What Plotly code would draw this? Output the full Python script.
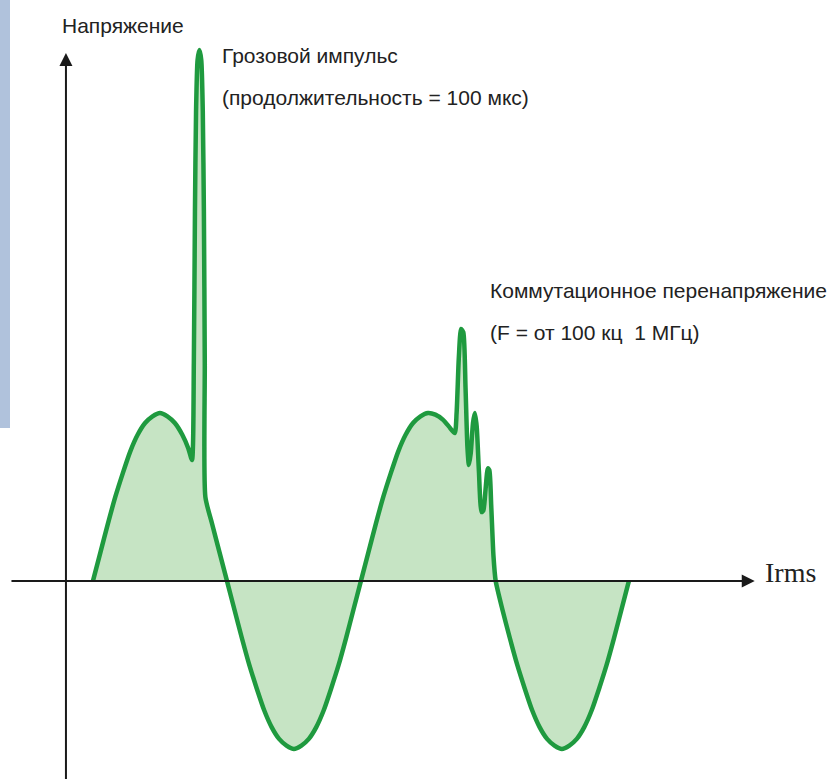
import plotly.graph_objects as go

# Phase (degrees) and voltage (relative to mains amplitude)
phase = [0, 10, 20, 30, 40, 50, 60, 70, 80, 90, 100, 110, 120, 128, 133,
         135.5, 137, 138.5, 140.5, 143, 145.5, 147.5, 149, 150.2, 151,
         160, 170, 180, 190, 200, 210, 220, 230, 240, 250, 260, 270, 280, 290,
         300, 310, 320, 330, 340, 350, 360, 370, 380, 390, 400, 410, 420, 430,
         440, 450, 460, 470, 478, 486,
         488.5, 491.5, 494.5, 497.5, 500.5, 503, 505, 507.5, 510.5, 513, 515.5, 518.5,
         522, 524.5, 527.5, 530.5, 532.5, 535, 538, 541,
         550, 560, 570, 580, 590, 600, 610, 620, 630, 640, 650, 660, 670, 680,
         690, 700, 710, 720]
voltage = [0, 0.17, 0.34, 0.50, 0.64, 0.77, 0.87, 0.94, 0.98, 1.00, 0.98, 0.94, 0.87, 0.79, 0.72,
           1.3, 2.2, 2.8, 3.1, 3.16, 3.1, 2.8, 2.2, 1.3, 0.5,
           0.34, 0.17, 0, -0.17, -0.34, -0.50, -0.64, -0.77, -0.87, -0.94, -0.98, -1.00, -0.98, -0.94,
           -0.87, -0.77, -0.64, -0.50, -0.34, -0.17, 0, 0.17, 0.34, 0.50, 0.64, 0.77, 0.87, 0.94,
           0.98, 1.00, 0.99, 0.96, 0.92, 0.88,
           1.0, 1.33, 1.5, 1.48, 1.15, 0.8, 0.69, 0.76, 0.94, 1.0, 0.92, 0.65,
           0.41, 0.42, 0.55, 0.67, 0.66, 0.45, 0.15, 0,
           -0.17, -0.34, -0.50, -0.64, -0.77, -0.87, -0.94, -0.98, -1.00, -0.98, -0.94, -0.87, -0.77, -0.64,
           -0.50, -0.34, -0.17, 0]

y_title = "Напряжение"
x_title = "Irms"
lightning_text = ["Грозовой импульс", "(продолжительность = 100 мкс)"]
switching_text = ["Коммутационное перенапряжение", "(F = от 100 кц  1 МГц)"]

X_RANGE = [-124.9, 986.1]
Y_RANGE = [-1.179, 3.458]

GREEN = "#1f9a3f"
FILL = "rgba(168,214,164,0.65)"
AXIS = "#1a1a1a"
SANS = "Liberation Sans, Arial, sans-serif"
SERIF = "Liberation Serif, Times New Roman, serif"
TXT = "#222222"
FS = 21

fig = go.Figure()
fig.add_trace(go.Scatter(
    x=phase, y=voltage, mode="lines", fill="tozeroy", fillcolor=FILL,
    line=dict(color=GREEN, width=4.5, shape="spline", smoothing=0.6),
    hoverinfo="skip", showlegend=False))

annotations = [
    # axes as arrows
    dict(x=-36.3, y=3.143, ax=-36.3, ay=-1.3, xref="x", yref="y", axref="x", ayref="y",
         showarrow=True, arrowhead=2, arrowsize=1.3, arrowwidth=2, arrowcolor=AXIS, text=""),
    dict(x=889, y=0, ax=-111.5, ay=0, xref="x", yref="y", axref="x", ayref="y",
         showarrow=True, arrowhead=2, arrowsize=1.3, arrowwidth=2, arrowcolor=AXIS, text=""),
    dict(x=-44.3, y=3.304, xref="x", yref="y", text=y_title, showarrow=False,
         xanchor="left", yanchor="middle", font=dict(family=SANS, size=FS, color=TXT)),
    dict(x=900, y=0.048, xref="x", yref="y", text=x_title, showarrow=False,
         xanchor="left", yanchor="middle", font=dict(family=SERIF, size=28, color=TXT)),
    dict(x=170.6, y=3.125, xref="x", yref="y", text=lightning_text[0], showarrow=False,
         xanchor="left", yanchor="middle", font=dict(family=SANS, size=FS, color=TXT)),
    dict(x=170.6, y=2.875, xref="x", yref="y", text=lightning_text[1], showarrow=False,
         xanchor="left", yanchor="middle", font=dict(family=SANS, size=FS, color=TXT)),
    dict(x=530.6, y=1.726, xref="x", yref="y", text=switching_text[0], showarrow=False,
         xanchor="left", yanchor="middle", font=dict(family=SANS, size=FS, color=TXT)),
    dict(x=530.6, y=1.476, xref="x", yref="y", text=switching_text[1], showarrow=False,
         xanchor="left", yanchor="middle", font=dict(family=SANS, size=FS, color=TXT)),
]

shapes = [
    dict(type="rect", xref="paper", yref="paper", x0=0, x1=10 / 827, y0=(779 - 428) / 779, y1=1,
         fillcolor="#b0c2dc", line=dict(width=0), layer="below"),
]

fig.update_layout(
    width=827, height=779, margin=dict(l=0, r=0, t=0, b=0),
    paper_bgcolor="white", plot_bgcolor="white",
    xaxis=dict(range=X_RANGE, visible=False, fixedrange=True),
    yaxis=dict(range=Y_RANGE, visible=False, fixedrange=True),
    annotations=annotations, shapes=shapes, showlegend=False)

fig.write_html("out.html", post_script="document.body.style.margin='0';",
               config={"displayModeBar": False})
